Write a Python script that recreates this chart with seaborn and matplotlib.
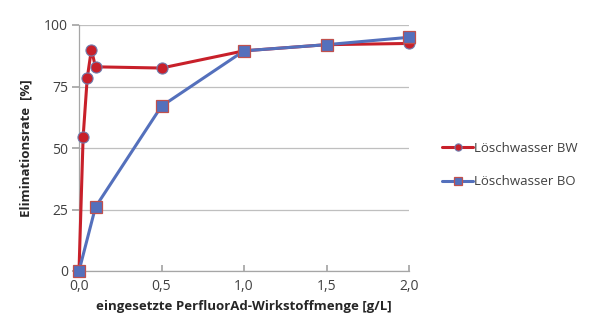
import matplotlib
matplotlib.use("Agg")
import matplotlib.pyplot as plt
import seaborn as sns
import pandas as pd

# Wirkstoffmenge [g/L] und Eliminationsrate [%]
dose_bw = [0.0, 0.025, 0.05, 0.075, 0.1, 0.5, 1.0, 1.5, 2.0]
rate_bw = [0.0, 54.5, 78.5, 90.0, 83.0, 82.5, 89.5, 92.0, 92.5]

dose_bo = [0.0, 0.1, 0.5, 1.0, 1.5, 2.0]
rate_bo = [0.0, 26.0, 67.0, 89.5, 92.0, 95.0]

x_ticks = [0.0, 0.5, 1.0, 1.5, 2.0]
y_ticks = [0, 25, 50, 75, 100]

label_bw = "Löschwasser BW"
label_bo = "Löschwasser BO"

df_bw = pd.DataFrame({"x": dose_bw, "y": rate_bw})
df_bo = pd.DataFrame({"x": dose_bo, "y": rate_bo})

sns.set_theme(style="white")
plt.rcParams["font.family"] = ["Open Sans", "DejaVu Sans"]

fig = plt.figure(figsize=(6.07, 3.35), dpi=100)
ax = fig.add_axes([79 / 607, 1 - 271 / 335, 330 / 607, 246 / 335])

red = "#C8202A"
blue = "#5470BC"

sns.lineplot(data=df_bw, x="x", y="y", ax=ax, color=red, lw=2.2,
             marker="o", markersize=8, markerfacecolor=red,
             markeredgecolor="#6F7EB0", markeredgewidth=0.8,
             label=label_bw, zorder=3, clip_on=False)
sns.lineplot(data=df_bo, x="x", y="y", ax=ax, color=blue, lw=2.2,
             marker="s", markersize=8, markerfacecolor=blue,
             markeredgecolor="#C0504D", markeredgewidth=0.9,
             label=label_bo, zorder=4, clip_on=False)

ax.set_xlim(0, 2.0)
ax.set_ylim(0, 100)
ax.set_xticks(x_ticks)
ax.set_xticklabels([f"{v:.1f}".replace(".", ",") for v in x_ticks])
ax.set_yticks(y_ticks)

ax.yaxis.grid(True, color="#BFBFBF", lw=0.9)
ax.xaxis.grid(False)
for side in ("top", "right"):
    ax.spines[side].set_visible(False)
for side in ("left", "bottom"):
    ax.spines[side].set_color("#A6A6A6")
    ax.spines[side].set_linewidth(0.9)

ax.tick_params(axis="y", direction="out", length=5, color="#A6A6A6",
               labelsize=10, labelcolor="#404040", left=True, pad=3)
ax.tick_params(axis="x", direction="in", length=4, color="#A6A6A6",
               labelsize=10, labelcolor="#404040", bottom=True, pad=6)

ax.set_xlabel("eingesetzte PerfluorAd-Wirkstoffmenge [g/L]", fontsize=9.5,
              fontweight="bold", color="#262626", labelpad=4)
ax.set_ylabel("Eliminationsrate  [%]", fontsize=9.5, fontweight="bold",
              color="#262626", labelpad=8)

leg = ax.legend(loc="center left", bbox_to_anchor=(1.085, 0.43),
                frameon=False, fontsize=9.5, handlelength=2.3,
                labelspacing=1.55, handletextpad=0.1, borderaxespad=0,
                markerscale=0.65)
for t in leg.get_texts():
    t.set_color("#404040")

fig.savefig("out.png", dpi=100)
